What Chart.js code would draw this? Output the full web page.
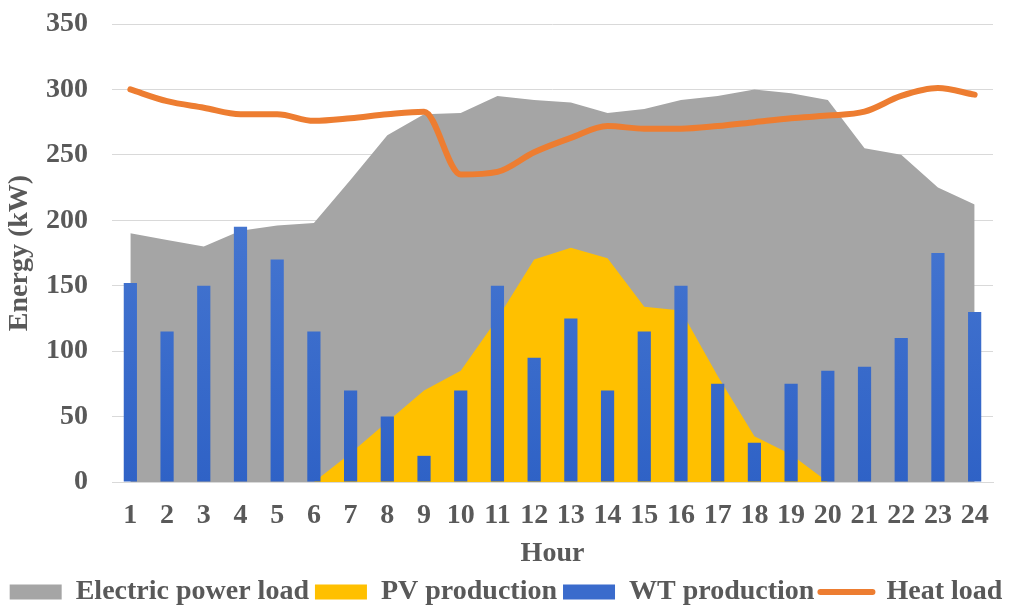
<!DOCTYPE html>
<html>
<head>
<meta charset="utf-8">
<script src="https://cdn.jsdelivr.net/npm/chart.js@4.4.1/dist/chart.umd.min.js"></script>
<style>
  html, body { margin: 0; padding: 0; background: #fff; }
  #wrap { width: 1012px; height: 610px; }
</style>
</head>
<body>
<div id="wrap"><canvas id="chart"></canvas></div>
<script>
const hours = ["1","2","3","4","5","6","7","8","9","10","11","12","13","14","15","16","17","18","19","20","21","22","23","24"];
const electricLoad = [190, 185, 180, 192, 196, 198, 231, 265, 281, 282, 295, 292, 290, 282, 285, 292, 295, 300, 297, 292, 255, 250, 225, 212];
const pvProduction = [0, 0, 0, 0, 0, 0, 22, 46, 70, 85, 125, 170, 179, 171, 134, 131, 81, 35, 21, 0, 0, 0, 0, 0];
const wtProduction = [152, 115, 150, 195, 170, 115, 70, 50, 20, 70, 150, 95, 125, 70, 115, 150, 75, 30, 75, 85, 88, 110, 175, 130];
const heatLoad = [300, 291, 286, 281, 281, 276, 278, 281, 283, 235, 237, 252, 263, 272, 270, 270, 272, 275, 278, 280, 283, 295, 301, 296];
const energyTicks = [0, 50, 100, 150, 200, 250, 300, 350];

const textColor = "#595959";
const fontFamily = "'Liberation Serif', 'Times New Roman', serif";
const boldFont = (size) => ({ family: fontFamily, size: size, weight: "bold", lineHeight: 1 });

function barGradient(context) {
    const area = context.chart.chartArea;
    if (!area) return "#4472C4";
    const g = context.chart.ctx.createLinearGradient(0, area.bottom, 0, area.top);
    g.addColorStop(0, "#2f62c6");
    g.addColorStop(1, "#5584d8");
    return g;
}

const chart = new Chart(document.getElementById("chart"), {
    type: "bar",
    data: {
        labels: hours,
        datasets: [
            {
                type: "line",
                label: "Electric power load",
                data: electricLoad,
                backgroundColor: "#A5A5A5",
                borderColor: "rgba(0,0,0,0)",
                borderWidth: 0,
                pointRadius: 0,
                fill: "origin",
                order: 4,
                yAxisID: "y",
            },
            {
                type: "line",
                label: "PV production",
                data: pvProduction,
                backgroundColor: "#FFC000",
                borderColor: "rgba(0,0,0,0)",
                borderWidth: 0,
                pointRadius: 0,
                fill: "origin",
                order: 3,
                yAxisID: "y",
            },
            {
                label: "WT production",
                data: wtProduction,
                backgroundColor: barGradient,
                borderWidth: 0,
                barPercentage: 0.36,
                categoryPercentage: 1.0,
                order: 2,
                yAxisID: "y",
            },
            {
                type: "line",
                label: "Heat load",
                data: heatLoad,
                borderColor: "#ED7D31",
                backgroundColor: "#ED7D31",
                borderWidth: 6,
                borderCapStyle: "round",
                borderJoinStyle: "round",
                cubicInterpolationMode: "monotone",
                pointRadius: 0,
                fill: false,
                order: 1,
                yAxisID: "y",
            },
        ],
    },
    options: {
        responsive: true,
        maintainAspectRatio: false,
        animation: false,
        layout: { padding: { top: 0, left: 0, right: 0, bottom: -6 } },
        plugins: {
            tooltip: { enabled: false },
            legend: {
                position: "bottom",
                labels: {
                    color: textColor,
                    font: boldFont(28),
                    usePointStyle: true,
                    pointStyleWidth: 52,
                    boxHeight: 15,
                    padding: 6,
                    sort: (a, b) => a.datasetIndex - b.datasetIndex,
                    generateLabels: (c) => {
                        const items = Chart.defaults.plugins.legend.labels.generateLabels(c);
                        return items.map((item) => {
                            const i = item.datasetIndex;
                            if (i === 3) {
                                item.pointStyle = "line";
                                item.strokeStyle = "#ED7D31";
                                item.lineWidth = 6;
                                item.lineCap = "round";
                            } else {
                                item.pointStyle = "rect";
                                item.lineWidth = 0;
                                if (i === 2) item.fillStyle = "#3a6bcc";
                            }
                            return item;
                        });
                    },
                },
            },
        },
        scales: {
            x: {
                offset: true,
                afterFit: (s) => { s.height = 90; },
                grid: { display: false, drawTicks: false },
                border: { display: true, color: "#d9d9d9" },
                ticks: {
                    color: textColor,
                    font: boldFont(28),
                    padding: 20,
                    maxRotation: 0,
                    autoSkip: false,
                },
                title: {
                    display: true,
                    text: "Hour",
                    color: textColor,
                    font: boldFont(28),
                    padding: { top: 10, bottom: 4 },
                },
            },
            y: {
                min: 0,
                max: 350,
                afterBuildTicks: (s) => { s.ticks = energyTicks.map((v) => ({ value: v })); },
                afterFit: (s) => {
                    s.width = 112;
                    s.paddingTop = 24;
                    s.paddingBottom = 0;
                },
                grid: { color: "#d9d9d9", drawTicks: false },
                border: { display: false },
                ticks: {
                    color: textColor,
                    font: boldFont(28),
                    padding: 24,
                },
                title: {
                    display: true,
                    text: "Energy (kW)",
                    color: textColor,
                    font: boldFont(28),
                    padding: { top: 6, bottom: 4 },
                },
            },
            pad: {
                position: "right",
                display: true,
                grid: { display: false },
                border: { display: false },
                ticks: { display: false },
                afterFit: (s) => { s.width = 19; },
            },
        },
    },
});
</script>
</body>
</html>
